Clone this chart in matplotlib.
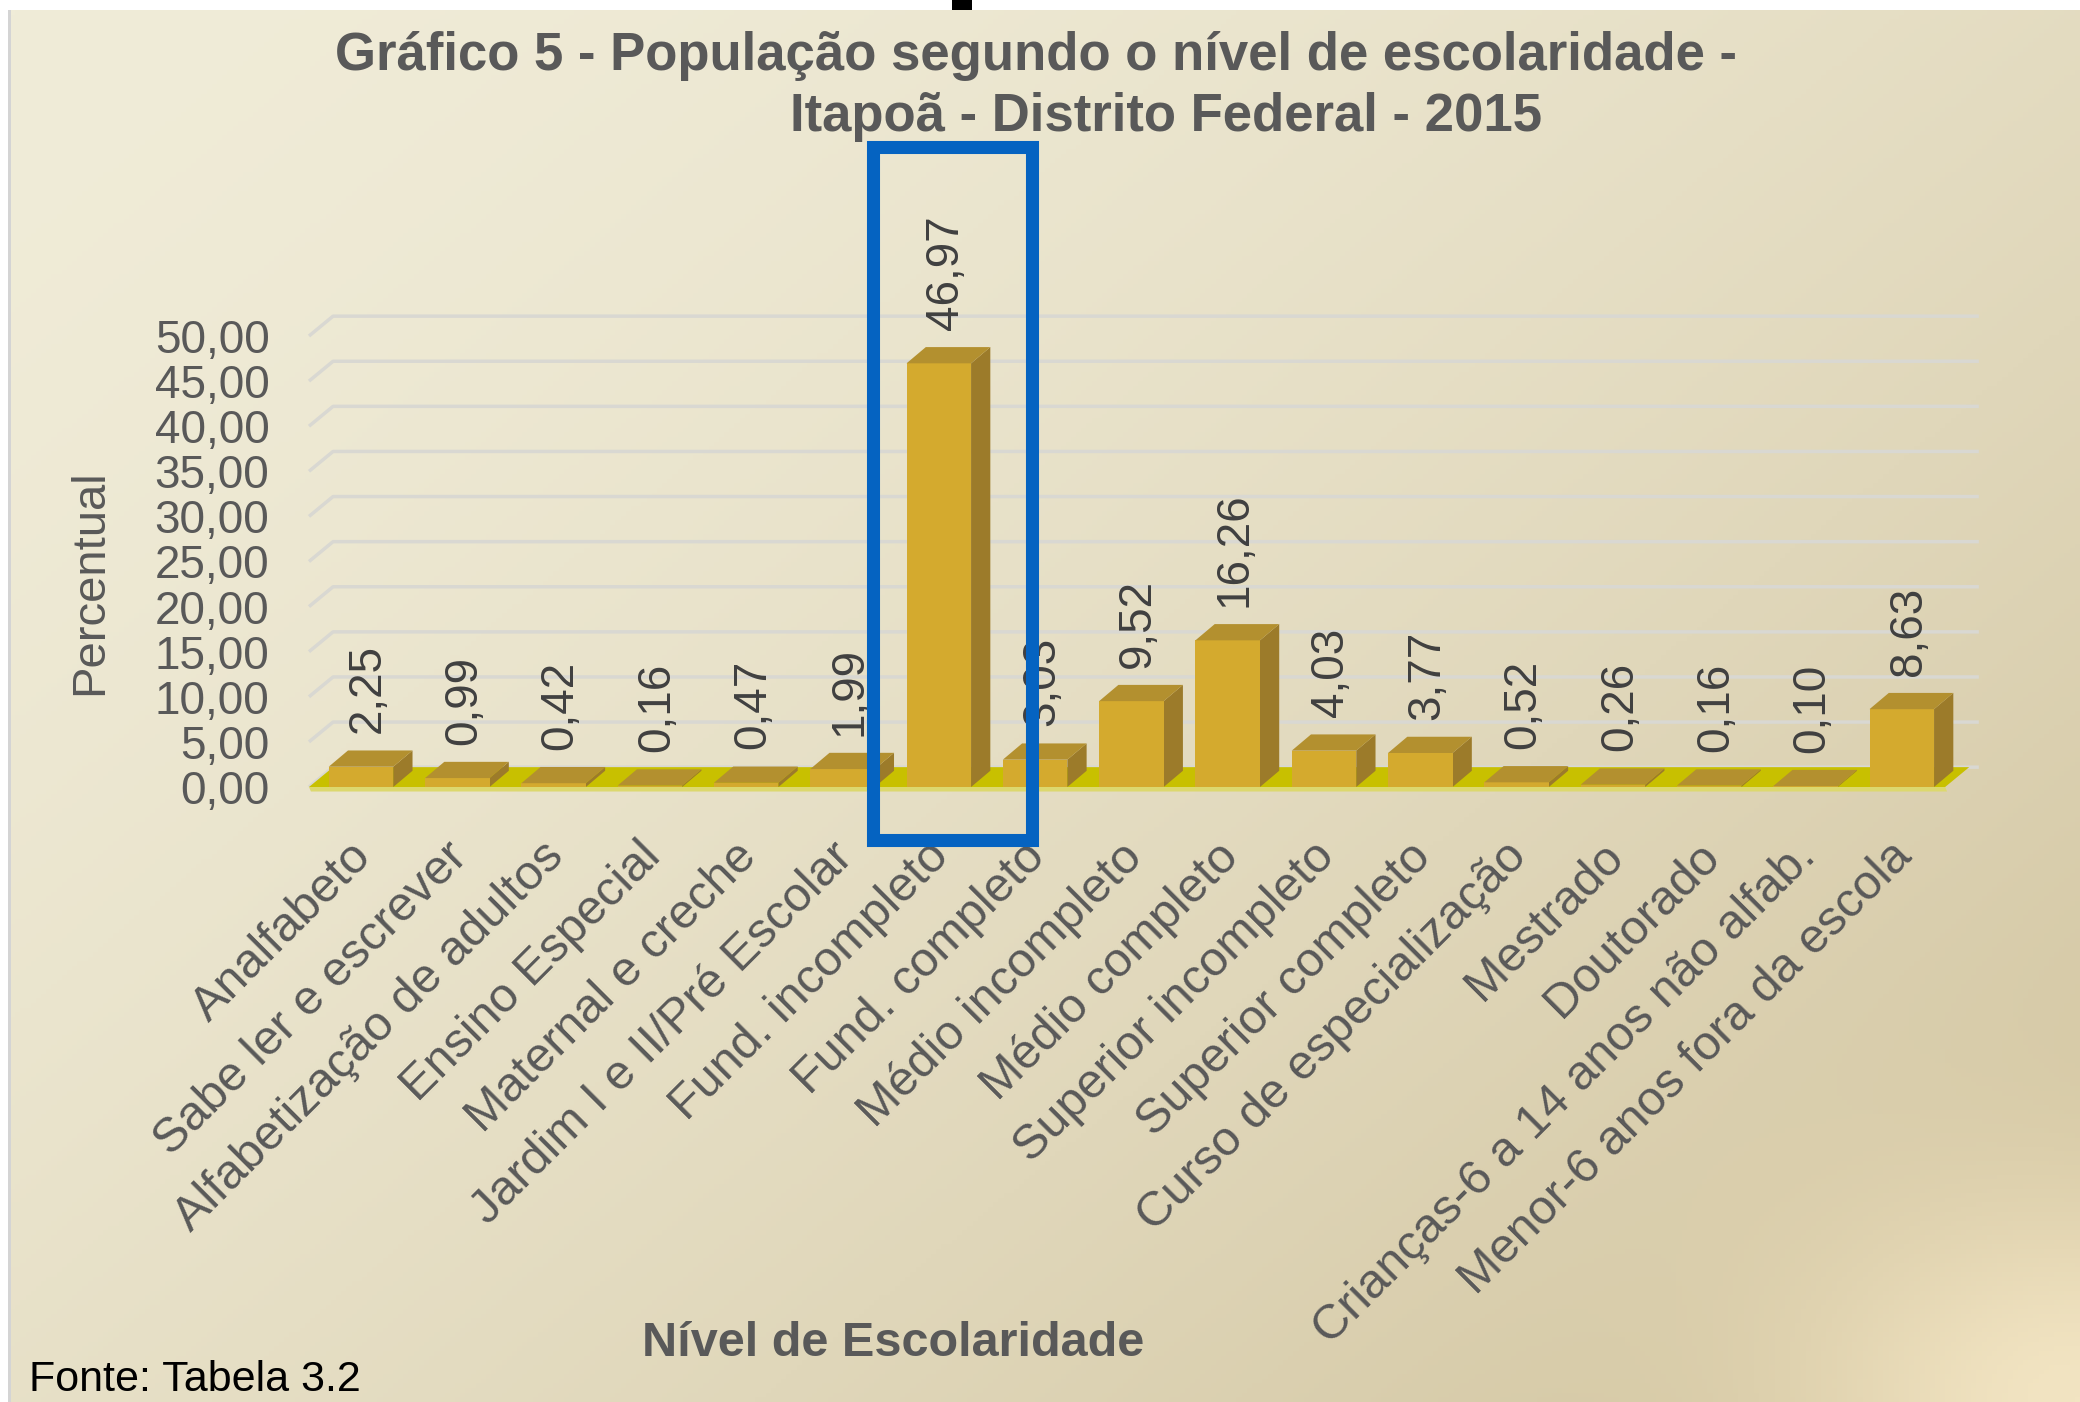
import numpy as np
import matplotlib
matplotlib.use('Agg')
import matplotlib.pyplot as plt
from matplotlib.patches import Polygon, Rectangle
from matplotlib.colors import to_rgb

categorias = ['Analfabeto', 'Sabe ler e escrever', 'Alfabetização de adultos',
              'Ensino Especial', 'Maternal e creche', 'Jardim I e II/Pré Escolar',
              'Fund. incompleto', 'Fund. completo', 'Médio incompleto',
              'Médio completo', 'Superior incompleto', 'Superior completo',
              'Curso de especialização', 'Mestrado', 'Doutorado',
              'Crianças-6 a 14 anos não alfab.', 'Menor-6 anos fora da escola']
percentual = [2.25, 0.99, 0.42, 0.16, 0.47, 1.99, 46.97, 3.03, 9.52,
              16.26, 4.03, 3.77, 0.52, 0.26, 0.16, 0.10, 8.63]
yticks = [0, 5, 10, 15, 20, 25, 30, 35, 40, 45, 50]

plt.rcParams['font.family'] = ['Liberation Sans', 'DejaVu Sans']

W, H = 2080, 1402
fig = plt.figure(figsize=(W / 100, H / 100), dpi=100)
fig.patch.set_facecolor('white')

# background panel with a soft diagonal gradient
bg = fig.add_axes([10 / W, 0, 1 - 10 / W, (H - 10) / H], zorder=-2)
u = np.linspace(0, 1, 400)[None, :]
t = np.linspace(0, 1, 300)[:, None]
d = np.clip(u * 0.55 + t * 0.45, 0, 1) ** 1.6
c0, c1, c2 = np.array(to_rgb('#F0ECD8')), np.array(to_rgb('#D0C29C')), np.array(to_rgb('#F2E4C2'))
img = c0 * (1 - d[..., None]) + c1 * d[..., None]
r = np.sqrt((1 - u) ** 2 + ((1 - t) * 0.9) ** 2)
hl = np.exp(-(r / 0.14) ** 2)[..., None]
img = img * (1 - hl) + c2 * hl
bg.imshow(img, aspect='auto', extent=[0, 1, 0, 1])
bg.axis('off')
fig.add_artist(Rectangle((8 / W, 0), 3 / W, (H - 10) / H, transform=fig.transFigure,
                         color='#D4D4D4', lw=0))
fig.add_artist(Rectangle((952 / W, 1 - 10 / H), 20 / W, 10 / H, transform=fig.transFigure,
                         color='black', lw=0))

# main axes: x -> 361 + 96.3*i px, y -> 787 - 9.02*v px
L, R, T, B = 300, 2000, 150, 835
ax = fig.add_axes([L / W, 1 - B / H, (R - L) / W, (B - T) / H])
ax.set_facecolor('none')
ax.set_xlim((L - 361) / 96.3, (R - 361) / 96.3)
ax.set_ylim((787 - B) / 9.02, (787 - T) / 9.02)
for s in ax.spines.values():
    s.set_visible(False)

n = len(percentual)
x = np.arange(n)
dx, dy = 0.25, 2.2        # depth of the back wall
bdx, bdy = 0.2, 1.8       # depth of each bar
x0, x1 = -0.54, n - 0.55

# back wall gridlines
for v in yticks:
    ax.plot([x0, x0 + dx, x1 + dx + 0.1], [v, v + dy, v + dy], color='#D9D8D2', lw=2.5,
            zorder=1, solid_capstyle='butt')

# floor
ax.add_patch(Polygon([(x0, 0), (x1, 0), (x1 + dx, dy), (x0 + dx, dy)],
                     facecolor='#C8C000', edgecolor='none', zorder=2))
ax.add_patch(Polygon([(x0, 0), (x1, 0), (x1 + 0.02, -0.5), (x0 + 0.02, -0.5)],
                     facecolor='#DCD86E', edgecolor='none', zorder=2))

# 3d-looking bars
w = 0.67
ax.bar(x, percentual, width=w, color='#D4AA2E', zorder=4)
for i, v in enumerate(percentual):
    xl, xr = i - w / 2, i + w / 2
    ax.add_patch(Polygon([(xr, 0), (xr, v), (xr + bdx, v + bdy), (xr + bdx, bdy)],
                         facecolor='#9C7B2A', edgecolor='none', zorder=3))
    ax.add_patch(Polygon([(xl, v), (xr, v), (xr + bdx, v + bdy), (xl + bdx, v + bdy)],
                         facecolor='#B3902F', edgecolor='none', zorder=4))
    ax.annotate(f'{v:.2f}'.replace('.', ','), (i, v), xytext=(5, 24),
                textcoords='offset points', rotation=90, ha='center', va='bottom',
                fontsize=33, color='#404040', zorder=5, annotation_clip=False)

ax.set_yticks(yticks)
ax.set_yticklabels([f'{v:.2f}'.replace('.', ',') for v in yticks], fontsize=33, color='#595959')
ax.tick_params(axis='y', length=0, pad=22)
ax.set_xticks([])
for i, lab in enumerate(categorias):
    ax.text(i - 0.13, -5.2, lab, rotation=45, ha='right', va='top', rotation_mode='anchor',
            fontsize=35, color='#595959')

fig.text(90 / W, 1 - 582 / H, 'Percentual', rotation=90, ha='center', va='center',
         fontsize=34, color='#595959')
fig.text(1036 / W, 1 - 70 / H, 'Gráfico 5 - População segundo o nível de escolaridade -',
         ha='center', va='baseline', fontsize=38, fontweight='bold', color='#595959')
fig.text(1166 / W, 1 - 131 / H, 'Itapoã - Distrito Federal - 2015',
         ha='center', va='baseline', fontsize=38, fontweight='bold', color='#595959')
fig.text(893 / W, 1 - 1344 / H, 'Nível de Escolaridade', ha='center', va='center',
         fontsize=35, fontweight='bold', color='#595959')
fig.text(29 / W, 1 - 1380 / H, 'Fonte: Tabela 3.2', ha='left', va='center',
         fontsize=31, color='black')

# highlight box around "Fund. incompleto"
fig.add_artist(Rectangle((873 / W, 1 - 840 / H), (1032 - 873) / W, (840 - 147) / H,
                         transform=fig.transFigure, fill=False, edgecolor='#0563C1',
                         lw=9.4, zorder=10))

plt.savefig('out.png', dpi=100)
